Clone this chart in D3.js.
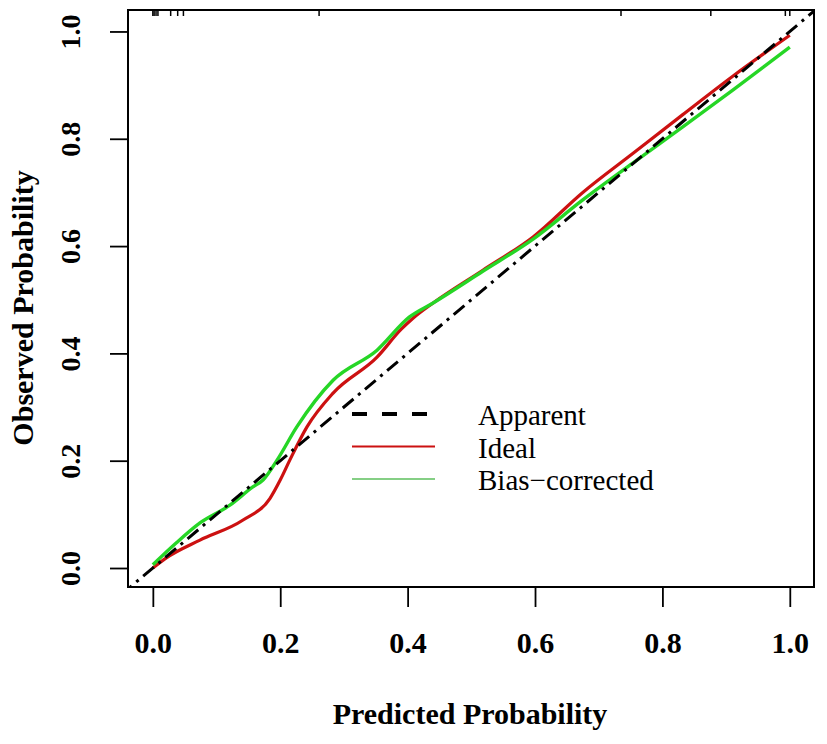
<!DOCTYPE html>
<html>
<head>
<meta charset="utf-8">
<script src="https://cdn.jsdelivr.net/npm/d3@7"></script>
<style>
  body { margin: 0; background: #fff; }
  text { font-family: "Liberation Serif", "Times New Roman", serif; }
</style>
</head>
<body>
<div id="calib_chart"></div>
<script>
// calibration curves
var idealX = [0, 0.02, 0.074, 0.141, 0.184, 0.2, 0.215, 0.242, 0.283, 0.352, 0.39, 0.408, 0.44, 0.518, 0.597, 0.675, 0.754, 0.832, 0.911, 1.0];
var idealY = [0, 0.018, 0.052, 0.089, 0.130, 0.164, 0.201, 0.263, 0.326, 0.393, 0.445, 0.465, 0.494, 0.555, 0.617, 0.700, 0.773, 0.845, 0.917, 0.993];

var biasX = [0, 0.037, 0.074, 0.121, 0.157, 0.173, 0.195, 0.226, 0.283, 0.352, 0.403, 0.44, 0.518, 0.597, 0.675, 0.754, 0.832, 0.911, 1.0];
var biasY = [0.006, 0.047, 0.084, 0.117, 0.151, 0.164, 0.201, 0.263, 0.350, 0.406, 0.468, 0.494, 0.553, 0.613, 0.686, 0.755, 0.822, 0.891, 0.971];

// rug of predicted values along the top
var rugX = [0, 0.002, 0.005, 0.008, 0.028, 0.039, 0.048, 0.261, 0.735, 0.876, 0.993, 1.0];

var tickValues = [0, 0.2, 0.4, 0.6, 0.8, 1.0];
var legendLabels = ["Apparent", "Ideal", "Bias\u2212corrected"];

var svgwidth = 827, svgheight = 744;
var box = {left: 128, right: 814, top: 10, bottom: 587};

var x = d3.scaleLinear().domain([-0.039, 1.038]).range([box.left, box.right]);
var y = d3.scaleLinear().domain([-0.0354, 1.04]).range([box.bottom, box.top]);

var svg = d3.select("#calib_chart").append("svg")
    .attr("width", svgwidth)
    .attr("height", svgheight);

svg.append("defs").append("clipPath").attr("id", "plotclip")
  .append("rect")
    .attr("x", box.left).attr("y", box.top)
    .attr("width", box.right - box.left).attr("height", box.bottom - box.top);

var line = d3.line()
    .x(function(d) { return x(d[0]); })
    .y(function(d) { return y(d[1]); })
    .curve(d3.curveMonotoneX);

var idealData = idealX.map(function(v, i) { return [v, idealY[i]]; });
var biasData = biasX.map(function(v, i) { return [v, biasY[i]]; });

var plot = svg.append("g").attr("clip-path", "url(#plotclip)");

plot.append("path")
    .datum(idealData)
    .attr("d", line)
    .attr("fill", "none")
    .attr("stroke", "#cc1111")
    .attr("stroke-width", 3.2);

plot.append("path")
    .datum(biasData)
    .attr("d", line)
    .attr("fill", "none")
    .attr("stroke", "#26d626")
    .attr("stroke-width", 3.4);

// diagonal, across whole plot region
plot.append("line")
    .attr("x1", x(-0.05)).attr("y1", y(-0.05))
    .attr("x2", x(1.05)).attr("y2", y(1.05))
    .attr("stroke", "#000")
    .attr("stroke-width", 3)
    .attr("stroke-dasharray", "14,6,3,6");

// rug
svg.selectAll(".rug")
    .data(rugX)
  .enter().append("line")
    .attr("class", "rug")
    .attr("x1", function(d) { return x(d); })
    .attr("x2", function(d) { return x(d); })
    .attr("y1", box.top)
    .attr("y2", box.top + 6)
    .attr("stroke", "#000")
    .attr("stroke-width", 1.5);

// box
svg.append("rect")
    .attr("x", box.left).attr("y", box.top)
    .attr("width", box.right - box.left).attr("height", box.bottom - box.top)
    .attr("fill", "none")
    .attr("stroke", "#000")
    .attr("stroke-width", 2);

var xAxis = d3.axisBottom(x).tickValues(tickValues).tickFormat(d3.format(".1f"))
    .tickSizeInner(20).tickSizeOuter(0).tickPadding(28);
var yAxis = d3.axisLeft(y).tickValues(tickValues).tickFormat(d3.format(".1f"))
    .tickSizeInner(18).tickSizeOuter(0).tickPadding(30);

var gx = svg.append("g")
    .attr("transform", "translate(0," + box.bottom + ")")
    .call(xAxis);
gx.select(".domain").remove();
gx.selectAll("line").attr("stroke-width", 1.8);
gx.selectAll("text")
    .attr("dy", 0)
    .attr("y", 66)
    .style("font-size", "30px")
    .style("font-weight", "bold")
    .attr("fill", "#000");

var gy = svg.append("g")
    .attr("transform", "translate(" + box.left + ",0)")
    .call(yAxis);
gy.select(".domain").remove();
gy.selectAll("line").attr("stroke-width", 1.8);
gy.selectAll("text")
    .attr("x", 0).attr("dy", 0)
    .attr("transform", "translate(-48,0) rotate(-90)")
    .style("text-anchor", "middle")
    .style("font-size", "28px")
    .style("font-weight", "bold")
    .attr("fill", "#000");

svg.append("text")
    .attr("x", 470)
    .attr("y", 724)
    .style("text-anchor", "middle")
    .style("font-size", "30px")
    .style("font-weight", "bold")
    .text("Predicted Probability");

svg.append("text")
    .attr("transform", "translate(33,308) rotate(-90)")
    .style("text-anchor", "middle")
    .style("font-size", "30px")
    .style("font-weight", "bold")
    .text("Observed Probability");

// legend
var legendStyles = [
    {stroke: "#000", width: 4, dash: "15,15"},
    {stroke: "#cc1111", width: 2.2, dash: null},
    {stroke: "#5cbf5c", width: 1.3, dash: null}
];
var legend = svg.append("g").attr("transform", "translate(352,414)");
legendLabels.forEach(function(lab, i) {
    var s = legendStyles[i];
    legend.append("line")
        .attr("x1", 0).attr("x2", i === 0 ? 75 : 83)
        .attr("y1", i * 32.5).attr("y2", i * 32.5)
        .attr("stroke", s.stroke)
        .attr("stroke-width", s.width)
        .attr("stroke-dasharray", s.dash);
    legend.append("text")
        .attr("x", 126)
        .attr("y", i * 32.5 + 11)
        .style("font-size", "29px")
        .text(lab);
});
</script>
</body>
</html>
